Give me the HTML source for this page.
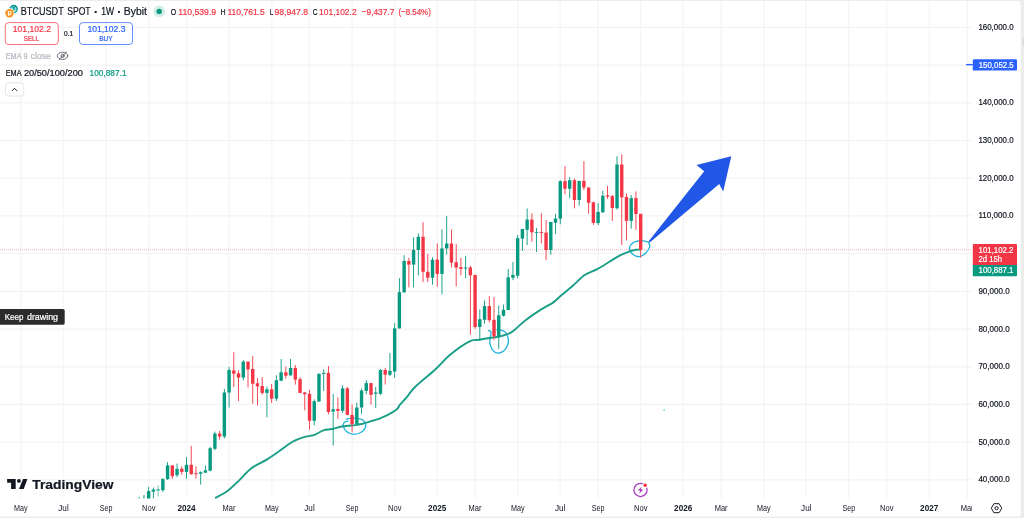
<!DOCTYPE html>
<html lang="en"><head><meta charset="utf-8"><title>BTCUSDT SPOT 1W Bybit</title>
<style>html,body{margin:0;padding:0;background:#ececec;overflow:hidden}svg{display:block}text{font-family:"Liberation Sans",sans-serif}</style></head><body>
<svg width="1024" height="518" viewBox="0 0 1024 518">
<rect width="1024" height="518" fill="#ececec"/>
<path d="M0 1H1018.3a2.4 2.4 0 0 1 2.4 2.4V514a2.4 2.4 0 0 1 -2.4 2.4H0Z" fill="#fff"/>
<rect x="1022.9" y="37.8" width="1.1" height="8.7" fill="#d9d9d9"/>
<g stroke="#f7f7f8" stroke-width="1.6" fill="none">
<line x1="20.9" y1="1" x2="20.9" y2="498.4"/>
<line x1="63.5" y1="1" x2="63.5" y2="498.4"/>
<line x1="106.1" y1="1" x2="106.1" y2="498.4"/>
<line x1="148.7" y1="1" x2="148.7" y2="498.4"/>
<line x1="186.5" y1="1" x2="186.5" y2="498.4"/>
<line x1="229.1" y1="1" x2="229.1" y2="498.4"/>
<line x1="271.7" y1="1" x2="271.7" y2="498.4"/>
<line x1="309.5" y1="1" x2="309.5" y2="498.4"/>
<line x1="352.1" y1="1" x2="352.1" y2="498.4"/>
<line x1="394.7" y1="1" x2="394.7" y2="498.4"/>
<line x1="437.2" y1="1" x2="437.2" y2="498.4"/>
<line x1="475.1" y1="1" x2="475.1" y2="498.4"/>
<line x1="517.7" y1="1" x2="517.7" y2="498.4"/>
<line x1="560.2" y1="1" x2="560.2" y2="498.4"/>
<line x1="598.1" y1="1" x2="598.1" y2="498.4"/>
<line x1="640.7" y1="1" x2="640.7" y2="498.4"/>
<line x1="683.3" y1="1" x2="683.3" y2="498.4"/>
<line x1="721.1" y1="1" x2="721.1" y2="498.4"/>
<line x1="763.7" y1="1" x2="763.7" y2="498.4"/>
<line x1="806.3" y1="1" x2="806.3" y2="498.4"/>
<line x1="848.8" y1="1" x2="848.8" y2="498.4"/>
<line x1="886.7" y1="1" x2="886.7" y2="498.4"/>
<line x1="929.3" y1="1" x2="929.3" y2="498.4"/>
<line x1="967.1" y1="1" x2="967.1" y2="498.4"/>
</g>
<g stroke="#f3f3f4" stroke-width="1.25" fill="none">
<line x1="0" y1="479.8" x2="972" y2="479.8"/>
<line x1="0" y1="442.1" x2="972" y2="442.1"/>
<line x1="0" y1="404.4" x2="972" y2="404.4"/>
<line x1="0" y1="366.8" x2="972" y2="366.8"/>
<line x1="0" y1="329.0" x2="972" y2="329.0"/>
<line x1="0" y1="291.3" x2="972" y2="291.3"/>
<line x1="0" y1="253.6" x2="972" y2="253.6"/>
<line x1="0" y1="215.9" x2="972" y2="215.9"/>
<line x1="0" y1="178.2" x2="972" y2="178.2"/>
<line x1="0" y1="140.5" x2="972" y2="140.5"/>
<line x1="0" y1="102.8" x2="972" y2="102.8"/>
<line x1="0" y1="65.1" x2="972" y2="65.1"/>
<line x1="0" y1="27.4" x2="972" y2="27.4"/>
</g>
<line x1="0" y1="249.6" x2="972" y2="249.6" stroke="#f23645" stroke-width="1.4" stroke-dasharray="1 1" opacity="0.32"/>
<g fill="none" stroke="#22b5dc" stroke-width="1.35" stroke-linecap="round" stroke-linejoin="round">
<path d="M346.1 419.2 C346.8 419.1 348.6 418.5 350.0 418.3 C351.4 418.1 352.6 418.0 354.6 418.2 C356.6 418.4 360.1 418.3 362.0 419.5 C363.9 420.7 365.7 423.3 365.7 425.3 C365.7 427.3 364.0 430.2 362.0 431.7 C360.0 433.2 356.5 434.4 353.9 434.4 C351.3 434.3 348.3 432.9 346.5 431.4 C344.7 429.9 343.4 427.1 343.1 425.6 C342.8 424.1 343.7 422.9 344.5 422.2 C345.3 421.5 347.2 421.4 347.8 421.2"/>
<path d="M488.4 330.4 C488.8 330.7 490.8 330.9 491.1 332.1 C491.4 333.3 490.3 335.5 490.1 337.5 C489.9 339.5 489.5 342.0 490.1 344.3 C490.7 346.6 492.1 349.6 493.5 351.1 C494.9 352.6 496.5 353.1 498.2 353.1 C499.9 353.1 502.0 352.5 503.6 351.1 C505.2 349.8 506.9 346.9 507.7 345.0 C508.5 343.1 508.6 341.5 508.4 339.6 C508.2 337.7 507.4 335.0 506.4 333.5 C505.4 332.0 503.9 331.0 502.3 330.4 C500.7 329.8 497.8 329.9 496.9 329.8"/>
<path d="M648.4 242.2 C647.6 242.0 645.1 241.0 643.6 240.8 C642.1 240.6 641.3 240.5 639.6 240.8 C637.9 241.1 635.2 241.3 633.5 242.5 C631.8 243.7 629.6 246.2 629.5 248.2 C629.4 250.2 631.1 252.9 632.8 254.3 C634.5 255.7 637.5 256.9 639.6 256.7 C641.8 256.5 644.0 254.6 645.7 253.0 C647.4 251.4 649.2 248.7 649.7 246.9 C650.2 245.1 648.6 243.0 648.4 242.2"/>
</g>
<rect x="663.3" y="409.2" width="1.6" height="1.6" fill="#7fd8ea"/>
<path d="M215.9 497.7 C217.9 496.6 223.8 493.7 227.7 490.8 C231.6 487.9 235.5 483.8 239.4 480.1 C243.3 476.4 246.6 471.8 251.1 468.4 C255.6 465.0 262.1 462.4 266.7 459.6 C271.2 456.8 274.2 454.7 278.4 451.8 C282.6 448.9 287.9 444.4 292.1 442.0 C296.3 439.6 300.2 438.2 303.8 437.1 C307.4 436.0 310.3 436.3 313.6 435.2 C316.9 434.1 320.3 431.3 323.4 430.3 C326.5 429.3 328.9 429.7 332.2 429.0 C335.5 428.3 339.3 426.9 343.2 426.3 C347.1 425.7 352.5 425.5 355.6 425.1 C358.7 424.7 359.1 424.6 361.7 424.0 C364.3 423.4 368.7 422.0 371.2 421.2 C373.8 420.4 374.6 420.4 377.2 419.4 C379.8 418.4 383.7 416.9 386.9 415.3 C390.1 413.7 394.4 411.3 396.6 409.5 C398.8 407.7 398.4 406.7 400.0 404.7 C401.6 402.7 403.9 400.6 406.4 397.7 C408.9 394.8 410.1 391.8 415.0 387.0 C419.9 382.2 430.1 374.3 435.8 369.0 C441.6 363.7 444.0 359.9 449.5 355.3 C455.0 350.7 464.1 344.2 469.0 341.6 C473.9 339.0 474.5 340.4 478.8 339.7 C483.0 339.0 490.5 337.9 494.4 337.3 C498.3 336.7 499.3 336.7 502.2 335.8 C505.1 334.9 508.1 334.5 512.0 331.9 C515.9 329.3 520.7 323.9 525.6 320.2 C530.5 316.4 536.7 312.3 541.2 309.4 C545.8 306.5 549.7 304.9 553.0 302.6 C556.3 300.3 557.5 298.6 560.8 295.8 C564.0 293.0 568.5 289.5 572.5 286.0 C576.5 282.5 580.6 277.8 584.7 275.0 C588.8 272.2 592.8 271.6 597.2 269.2 C601.6 266.8 607.4 262.9 611.2 260.6 C615.1 258.3 617.5 256.8 620.6 255.2 C623.7 253.6 627.4 252.2 630.0 251.2 C632.6 250.3 634.5 250.0 636.2 249.7 C638.0 249.4 639.5 249.7 640.2 249.7" fill="none" stroke="#1a9f86" stroke-width="1.9" stroke-linecap="round" stroke-linejoin="round"/>
<g>
<rect x="138.74" y="497.0" width="0.9" height="1.4" fill="#089981"/>
<rect x="143.47" y="495.2" width="0.9" height="3.2" fill="#089981" opacity="0.45"/>
<rect x="143.02" y="495.2" width="1.8" height="3.2" fill="#089981" opacity="0.45"/>
<rect x="148.20" y="487.0" width="0.9" height="11.4" fill="#089981"/>
<rect x="146.95" y="491.1" width="3.4" height="7.3" fill="#089981"/>
<rect x="152.93" y="487.6" width="0.9" height="10.8" fill="#089981"/>
<rect x="151.68" y="489.6" width="3.4" height="2.1" fill="#089981"/>
<rect x="157.66" y="485.5" width="0.9" height="10.9" fill="#089981" opacity="0.6"/>
<rect x="156.41" y="489.0" width="3.4" height="1.8" fill="#089981" opacity="0.6"/>
<rect x="162.40" y="478.1" width="0.9" height="13.7" fill="#089981"/>
<rect x="161.15" y="479.1" width="3.4" height="11.1" fill="#089981"/>
<rect x="167.13" y="462.1" width="0.9" height="17.9" fill="#089981"/>
<rect x="165.88" y="465.4" width="3.4" height="13.7" fill="#089981"/>
<rect x="171.86" y="465.4" width="0.9" height="13.3" fill="#f23645"/>
<rect x="170.61" y="465.4" width="3.4" height="10.8" fill="#f23645"/>
<rect x="176.59" y="463.5" width="0.9" height="13.6" fill="#089981"/>
<rect x="175.34" y="468.8" width="3.4" height="6.4" fill="#089981"/>
<rect x="181.32" y="466.4" width="0.9" height="8.2" fill="#f23645"/>
<rect x="180.07" y="468.8" width="3.4" height="3.1" fill="#f23645"/>
<rect x="186.05" y="457.0" width="0.9" height="21.7" fill="#089981"/>
<rect x="184.80" y="464.8" width="3.4" height="7.1" fill="#089981"/>
<rect x="190.78" y="445.9" width="0.9" height="28.7" fill="#f23645"/>
<rect x="189.53" y="464.8" width="3.4" height="9.4" fill="#f23645"/>
<rect x="195.51" y="466.4" width="0.9" height="12.3" fill="#f23645"/>
<rect x="194.26" y="473.2" width="3.4" height="1.0" fill="#f23645"/>
<rect x="200.24" y="471.3" width="0.9" height="13.3" fill="#089981"/>
<rect x="198.99" y="472.3" width="3.4" height="1.5" fill="#089981"/>
<rect x="204.97" y="465.4" width="0.9" height="7.3" fill="#089981"/>
<rect x="203.72" y="470.3" width="3.4" height="2.4" fill="#089981"/>
<rect x="209.71" y="446.9" width="0.9" height="24.4" fill="#089981"/>
<rect x="208.46" y="448.2" width="3.4" height="22.5" fill="#089981"/>
<rect x="214.44" y="431.6" width="0.9" height="18.8" fill="#089981"/>
<rect x="213.19" y="433.6" width="3.4" height="15.2" fill="#089981"/>
<rect x="219.17" y="430.9" width="0.9" height="8.7" fill="#f23645"/>
<rect x="217.92" y="433.6" width="3.4" height="2.9" fill="#f23645"/>
<rect x="223.90" y="389.0" width="0.9" height="49.5" fill="#089981"/>
<rect x="222.65" y="392.5" width="3.4" height="44.0" fill="#089981"/>
<rect x="228.63" y="366.9" width="0.9" height="40.6" fill="#089981"/>
<rect x="227.38" y="370.0" width="3.4" height="22.5" fill="#089981"/>
<rect x="233.36" y="352.2" width="0.9" height="34.8" fill="#f23645"/>
<rect x="232.11" y="370.4" width="3.4" height="3.3" fill="#f23645"/>
<rect x="238.09" y="370.4" width="0.9" height="30.6" fill="#f23645"/>
<rect x="236.84" y="373.3" width="3.4" height="4.3" fill="#f23645"/>
<rect x="242.82" y="360.2" width="0.9" height="20.0" fill="#089981"/>
<rect x="241.57" y="361.6" width="3.4" height="16.0" fill="#089981"/>
<rect x="247.55" y="361.6" width="0.9" height="25.8" fill="#f23645"/>
<rect x="246.30" y="361.6" width="3.4" height="7.8" fill="#f23645"/>
<rect x="252.28" y="356.1" width="0.9" height="47.5" fill="#f23645"/>
<rect x="251.03" y="369.0" width="3.4" height="14.7" fill="#f23645"/>
<rect x="257.01" y="378.2" width="0.9" height="27.3" fill="#f23645"/>
<rect x="255.76" y="383.3" width="3.4" height="3.1" fill="#f23645"/>
<rect x="261.75" y="377.2" width="0.9" height="17.6" fill="#f23645"/>
<rect x="260.50" y="386.0" width="3.4" height="6.9" fill="#f23645"/>
<rect x="266.48" y="386.6" width="0.9" height="30.7" fill="#089981"/>
<rect x="265.23" y="389.3" width="3.4" height="3.6" fill="#089981"/>
<rect x="271.21" y="384.0" width="0.9" height="19.0" fill="#f23645"/>
<rect x="269.96" y="389.3" width="3.4" height="9.4" fill="#f23645"/>
<rect x="275.94" y="375.3" width="0.9" height="25.7" fill="#089981"/>
<rect x="274.69" y="380.2" width="3.4" height="18.5" fill="#089981"/>
<rect x="280.67" y="359.0" width="0.9" height="22.1" fill="#089981"/>
<rect x="279.42" y="372.3" width="3.4" height="8.4" fill="#089981"/>
<rect x="285.40" y="366.5" width="0.9" height="12.1" fill="#f23645"/>
<rect x="284.15" y="372.3" width="3.4" height="3.4" fill="#f23645"/>
<rect x="290.13" y="359.0" width="0.9" height="16.7" fill="#089981"/>
<rect x="288.88" y="368.0" width="3.4" height="7.3" fill="#089981"/>
<rect x="294.86" y="365.1" width="0.9" height="19.5" fill="#f23645"/>
<rect x="293.61" y="368.0" width="3.4" height="11.6" fill="#f23645"/>
<rect x="299.59" y="377.2" width="0.9" height="16.0" fill="#f23645"/>
<rect x="298.34" y="379.2" width="3.4" height="13.7" fill="#f23645"/>
<rect x="304.32" y="391.9" width="0.9" height="18.5" fill="#f23645"/>
<rect x="303.07" y="392.5" width="3.4" height="1.7" fill="#f23645"/>
<rect x="309.06" y="389.9" width="0.9" height="39.7" fill="#f23645"/>
<rect x="307.81" y="393.8" width="3.4" height="27.0" fill="#f23645"/>
<rect x="313.79" y="399.3" width="0.9" height="26.2" fill="#089981"/>
<rect x="312.54" y="401.2" width="3.4" height="19.6" fill="#089981"/>
<rect x="318.52" y="373.7" width="0.9" height="27.9" fill="#089981"/>
<rect x="317.27" y="373.7" width="3.4" height="27.9" fill="#089981"/>
<rect x="323.25" y="369.4" width="0.9" height="21.5" fill="#089981"/>
<rect x="322.00" y="372.9" width="3.4" height="1.0" fill="#089981"/>
<rect x="327.98" y="366.1" width="0.9" height="48.2" fill="#f23645"/>
<rect x="326.73" y="372.9" width="3.4" height="39.1" fill="#f23645"/>
<rect x="332.71" y="393.9" width="0.9" height="51.7" fill="#089981"/>
<rect x="331.46" y="409.3" width="3.4" height="2.3" fill="#089981"/>
<rect x="337.44" y="397.3" width="0.9" height="21.5" fill="#f23645"/>
<rect x="336.19" y="409.0" width="3.4" height="1.8" fill="#f23645"/>
<rect x="342.17" y="385.4" width="0.9" height="27.4" fill="#089981"/>
<rect x="340.92" y="388.4" width="3.4" height="22.4" fill="#089981"/>
<rect x="346.90" y="387.0" width="0.9" height="28.3" fill="#f23645"/>
<rect x="345.65" y="388.4" width="3.4" height="26.5" fill="#f23645"/>
<rect x="351.63" y="404.6" width="0.9" height="27.7" fill="#f23645"/>
<rect x="350.38" y="414.9" width="3.4" height="9.2" fill="#f23645"/>
<rect x="356.37" y="402.6" width="0.9" height="22.1" fill="#089981"/>
<rect x="355.12" y="407.5" width="3.4" height="16.6" fill="#089981"/>
<rect x="361.10" y="388.4" width="0.9" height="25.4" fill="#089981"/>
<rect x="359.85" y="390.5" width="3.4" height="17.0" fill="#089981"/>
<rect x="365.83" y="380.2" width="0.9" height="14.2" fill="#089981"/>
<rect x="364.58" y="383.1" width="3.4" height="7.8" fill="#089981"/>
<rect x="370.56" y="383.1" width="0.9" height="21.5" fill="#f23645"/>
<rect x="369.31" y="383.1" width="3.4" height="11.7" fill="#f23645"/>
<rect x="375.29" y="387.0" width="0.9" height="20.9" fill="#089981"/>
<rect x="374.04" y="392.5" width="3.4" height="1.3" fill="#089981"/>
<rect x="380.02" y="369.0" width="0.9" height="26.2" fill="#089981"/>
<rect x="378.77" y="370.0" width="3.4" height="23.8" fill="#089981"/>
<rect x="384.75" y="368.0" width="0.9" height="16.5" fill="#f23645"/>
<rect x="383.50" y="370.0" width="3.4" height="4.7" fill="#f23645"/>
<rect x="389.48" y="352.8" width="0.9" height="23.4" fill="#089981"/>
<rect x="388.23" y="370.8" width="3.4" height="3.9" fill="#089981"/>
<rect x="394.21" y="323.1" width="0.9" height="54.7" fill="#089981"/>
<rect x="392.96" y="328.4" width="3.4" height="43.1" fill="#089981"/>
<rect x="398.94" y="278.2" width="0.9" height="50.2" fill="#089981"/>
<rect x="397.69" y="292.2" width="3.4" height="36.2" fill="#089981"/>
<rect x="403.68" y="255.2" width="0.9" height="37.7" fill="#089981"/>
<rect x="402.43" y="261.0" width="3.4" height="31.3" fill="#089981"/>
<rect x="408.41" y="257.7" width="0.9" height="29.7" fill="#f23645"/>
<rect x="407.16" y="261.0" width="3.4" height="3.6" fill="#f23645"/>
<rect x="413.14" y="237.2" width="0.9" height="50.2" fill="#089981"/>
<rect x="411.89" y="249.9" width="3.4" height="14.7" fill="#089981"/>
<rect x="417.87" y="233.3" width="0.9" height="42.0" fill="#089981"/>
<rect x="416.62" y="236.8" width="3.4" height="13.1" fill="#089981"/>
<rect x="422.60" y="222.2" width="0.9" height="59.9" fill="#f23645"/>
<rect x="421.35" y="236.8" width="3.4" height="35.0" fill="#f23645"/>
<rect x="427.33" y="253.8" width="0.9" height="28.3" fill="#f23645"/>
<rect x="426.08" y="271.8" width="3.4" height="5.9" fill="#f23645"/>
<rect x="432.06" y="257.3" width="0.9" height="27.4" fill="#089981"/>
<rect x="430.81" y="259.7" width="3.4" height="18.0" fill="#089981"/>
<rect x="436.79" y="243.5" width="0.9" height="43.1" fill="#f23645"/>
<rect x="435.54" y="259.7" width="3.4" height="14.2" fill="#f23645"/>
<rect x="441.52" y="229.4" width="0.9" height="64.9" fill="#089981"/>
<rect x="440.27" y="248.4" width="3.4" height="25.5" fill="#089981"/>
<rect x="446.25" y="216.1" width="0.9" height="38.3" fill="#089981"/>
<rect x="445.00" y="243.5" width="3.4" height="4.9" fill="#089981"/>
<rect x="450.99" y="229.4" width="0.9" height="38.1" fill="#f23645"/>
<rect x="449.74" y="243.5" width="3.4" height="19.1" fill="#f23645"/>
<rect x="455.72" y="244.1" width="0.9" height="42.3" fill="#f23645"/>
<rect x="454.47" y="262.2" width="3.4" height="5.3" fill="#f23645"/>
<rect x="460.45" y="257.7" width="0.9" height="17.6" fill="#f23645"/>
<rect x="459.20" y="267.1" width="3.4" height="1.8" fill="#f23645"/>
<rect x="465.18" y="255.8" width="0.9" height="22.4" fill="#089981"/>
<rect x="463.93" y="267.5" width="3.4" height="1.0" fill="#089981"/>
<rect x="469.91" y="265.9" width="0.9" height="68.9" fill="#f23645"/>
<rect x="468.66" y="267.5" width="3.4" height="7.8" fill="#f23645"/>
<rect x="474.64" y="274.9" width="0.9" height="54.0" fill="#f23645"/>
<rect x="473.39" y="274.9" width="3.4" height="52.1" fill="#f23645"/>
<rect x="479.37" y="309.4" width="0.9" height="31.3" fill="#089981"/>
<rect x="478.12" y="319.2" width="3.4" height="7.8" fill="#089981"/>
<rect x="484.10" y="300.6" width="0.9" height="23.1" fill="#089981"/>
<rect x="482.85" y="306.1" width="3.4" height="13.7" fill="#089981"/>
<rect x="488.83" y="296.1" width="0.9" height="26.4" fill="#f23645"/>
<rect x="487.58" y="306.1" width="3.4" height="14.1" fill="#f23645"/>
<rect x="493.56" y="297.1" width="0.9" height="42.6" fill="#f23645"/>
<rect x="492.31" y="319.8" width="3.4" height="16.4" fill="#f23645"/>
<rect x="498.30" y="305.5" width="0.9" height="43.6" fill="#089981"/>
<rect x="497.05" y="315.3" width="3.4" height="20.9" fill="#089981"/>
<rect x="503.03" y="304.5" width="0.9" height="12.1" fill="#089981"/>
<rect x="501.78" y="309.8" width="3.4" height="5.9" fill="#089981"/>
<rect x="507.76" y="269.1" width="0.9" height="40.9" fill="#089981"/>
<rect x="506.51" y="277.3" width="3.4" height="32.7" fill="#089981"/>
<rect x="512.49" y="262.0" width="0.9" height="18.2" fill="#089981"/>
<rect x="511.24" y="274.9" width="3.4" height="2.8" fill="#089981"/>
<rect x="517.22" y="234.9" width="0.9" height="43.3" fill="#089981"/>
<rect x="515.97" y="238.2" width="3.4" height="37.5" fill="#089981"/>
<rect x="521.95" y="229.0" width="0.9" height="21.9" fill="#089981"/>
<rect x="520.70" y="229.0" width="3.4" height="9.6" fill="#089981"/>
<rect x="526.68" y="208.5" width="0.9" height="36.5" fill="#089981"/>
<rect x="525.43" y="219.6" width="3.4" height="10.2" fill="#089981"/>
<rect x="531.41" y="213.2" width="0.9" height="28.5" fill="#f23645"/>
<rect x="530.16" y="219.6" width="3.4" height="12.7" fill="#f23645"/>
<rect x="536.14" y="228.0" width="0.9" height="24.0" fill="#089981"/>
<rect x="534.89" y="232.0" width="3.4" height="0.9" fill="#089981"/>
<rect x="540.88" y="213.2" width="0.9" height="30.3" fill="#f23645"/>
<rect x="539.62" y="232.0" width="3.4" height="0.9" fill="#f23645"/>
<rect x="545.61" y="220.0" width="0.9" height="40.0" fill="#f23645"/>
<rect x="544.36" y="232.6" width="3.4" height="17.4" fill="#f23645"/>
<rect x="550.34" y="222.0" width="0.9" height="32.8" fill="#089981"/>
<rect x="549.09" y="222.0" width="3.4" height="28.0" fill="#089981"/>
<rect x="555.07" y="213.8" width="0.9" height="20.2" fill="#089981"/>
<rect x="553.82" y="218.6" width="3.4" height="4.1" fill="#089981"/>
<rect x="559.80" y="180.2" width="0.9" height="44.1" fill="#089981"/>
<rect x="558.55" y="181.2" width="3.4" height="37.5" fill="#089981"/>
<rect x="564.53" y="166.1" width="0.9" height="28.1" fill="#f23645"/>
<rect x="563.28" y="181.2" width="3.4" height="7.5" fill="#f23645"/>
<rect x="569.26" y="177.0" width="0.9" height="21.4" fill="#089981"/>
<rect x="568.01" y="180.2" width="3.4" height="8.6" fill="#089981"/>
<rect x="573.99" y="178.6" width="0.9" height="29.7" fill="#f23645"/>
<rect x="572.74" y="180.2" width="3.4" height="19.8" fill="#f23645"/>
<rect x="578.72" y="180.9" width="0.9" height="24.7" fill="#089981"/>
<rect x="577.47" y="180.9" width="3.4" height="19.1" fill="#089981"/>
<rect x="583.45" y="161.1" width="0.9" height="28.9" fill="#f23645"/>
<rect x="582.20" y="180.9" width="3.4" height="6.6" fill="#f23645"/>
<rect x="588.18" y="187.5" width="0.9" height="26.2" fill="#f23645"/>
<rect x="586.93" y="187.5" width="3.4" height="15.3" fill="#f23645"/>
<rect x="592.92" y="201.6" width="0.9" height="23.4" fill="#f23645"/>
<rect x="591.67" y="202.3" width="3.4" height="20.6" fill="#f23645"/>
<rect x="597.65" y="203.1" width="0.9" height="21.9" fill="#089981"/>
<rect x="596.40" y="211.9" width="3.4" height="11.2" fill="#089981"/>
<rect x="602.38" y="190.8" width="0.9" height="22.2" fill="#089981"/>
<rect x="601.13" y="195.8" width="3.4" height="16.4" fill="#089981"/>
<rect x="607.11" y="185.9" width="0.9" height="13.0" fill="#f23645"/>
<rect x="605.86" y="195.3" width="3.4" height="1.3" fill="#f23645"/>
<rect x="611.84" y="195.0" width="0.9" height="26.0" fill="#f23645"/>
<rect x="610.59" y="196.1" width="3.4" height="11.9" fill="#f23645"/>
<rect x="616.57" y="156.2" width="0.9" height="53.2" fill="#089981"/>
<rect x="615.32" y="164.5" width="3.4" height="43.8" fill="#089981"/>
<rect x="621.30" y="154.4" width="0.9" height="90.6" fill="#f23645"/>
<rect x="620.05" y="164.5" width="3.4" height="32.8" fill="#f23645"/>
<rect x="626.03" y="193.4" width="0.9" height="46.9" fill="#f23645"/>
<rect x="624.78" y="197.0" width="3.4" height="23.8" fill="#f23645"/>
<rect x="630.76" y="195.0" width="0.9" height="33.6" fill="#089981"/>
<rect x="629.51" y="198.1" width="3.4" height="22.8" fill="#089981"/>
<rect x="635.49" y="191.4" width="0.9" height="38.3" fill="#f23645"/>
<rect x="634.24" y="198.1" width="3.4" height="15.9" fill="#f23645"/>
<rect x="640.23" y="213.8" width="0.9" height="43.8" fill="#f23645"/>
<rect x="638.98" y="213.8" width="3.4" height="35.9" fill="#f23645"/>
</g>
<path d="M648.5 241.4L704.2 171.3L696.5 165L731.3 156.2L723.2 191.4L719.2 184L649.7 242.6Z" fill="#2157e6"/>
<circle cx="13.7" cy="9.0" r="4.2" fill="#0a9a96"/>
<circle cx="13.5" cy="9.3" r="2.9" fill="#9ad8d3"/>
<text x="13.6" y="10.9" font-size="4.6" fill="#0a9a96" text-anchor="middle" font-weight="bold">₮</text>
<circle cx="9.5" cy="13.2" r="4.9" fill="#fff"/>
<circle cx="9.5" cy="13.2" r="4.2" fill="#f7931a"/>
<text x="9.5" y="15.4" font-size="6" fill="#fff" text-anchor="middle" font-weight="bold">₿</text>
<text x="20.8" y="15.3" font-size="10.6" fill="#131722" stroke="#131722" stroke-width="0.22" textLength="42.9" lengthAdjust="spacingAndGlyphs">BTCUSDT</text>
<text x="67.2" y="15.3" font-size="10.6" fill="#131722" stroke="#131722" stroke-width="0.22" textLength="23.4" lengthAdjust="spacingAndGlyphs">SPOT</text>
<text x="95.9" y="15.6" font-size="12" fill="#131722" stroke="#131722" stroke-width="0.22" font-weight="bold" text-anchor="middle">·</text>
<text x="101.3" y="15.3" font-size="10.6" fill="#131722" stroke="#131722" stroke-width="0.22" textLength="12.8" lengthAdjust="spacingAndGlyphs">1W</text>
<text x="119.2" y="15.6" font-size="12" fill="#131722" stroke="#131722" stroke-width="0.22" font-weight="bold" text-anchor="middle">·</text>
<text x="123.8" y="15.3" font-size="10.6" fill="#131722" stroke="#131722" stroke-width="0.22" textLength="23.1" lengthAdjust="spacingAndGlyphs">Bybit</text>
<circle cx="159.2" cy="11.4" r="5.9" fill="#d3eee9"/><circle cx="159.2" cy="11.4" r="2.7" fill="#089981"/>
<text x="170.8" y="15.3" font-size="9.6" fill="#131722" stroke="#131722" stroke-width="0.22" textLength="5.4" lengthAdjust="spacingAndGlyphs">O</text>
<text x="178.3" y="15.3" font-size="9.6" fill="#f23645" stroke="#f23645" stroke-width="0.22" textLength="37.8" lengthAdjust="spacingAndGlyphs">110,539.9</text>
<text x="220.5" y="15.3" font-size="9.6" fill="#131722" stroke="#131722" stroke-width="0.22" textLength="5.1" lengthAdjust="spacingAndGlyphs">H</text>
<text x="227.5" y="15.3" font-size="9.6" fill="#f23645" stroke="#f23645" stroke-width="0.22" textLength="37.2" lengthAdjust="spacingAndGlyphs">110,761.5</text>
<text x="269.7" y="15.3" font-size="9.6" fill="#131722" stroke="#131722" stroke-width="0.22" textLength="3.5" lengthAdjust="spacingAndGlyphs">L</text>
<text x="274.5" y="15.3" font-size="9.6" fill="#f23645" stroke="#f23645" stroke-width="0.22" textLength="33.6" lengthAdjust="spacingAndGlyphs">98,947.8</text>
<text x="312.7" y="15.3" font-size="9.6" fill="#131722" stroke="#131722" stroke-width="0.22" textLength="4.8" lengthAdjust="spacingAndGlyphs">C</text>
<text x="319.1" y="15.3" font-size="9.6" fill="#f23645" stroke="#f23645" stroke-width="0.22" textLength="37.5" lengthAdjust="spacingAndGlyphs">101,102.2</text>
<text x="361.6" y="15.3" font-size="9.6" fill="#f23645" stroke="#f23645" stroke-width="0.22" textLength="32.8" lengthAdjust="spacingAndGlyphs">−9,437.7</text>
<text x="398.4" y="15.3" font-size="9.6" fill="#f23645" stroke="#f23645" stroke-width="0.22" textLength="32.4" lengthAdjust="spacingAndGlyphs">(−8.54%)</text>
<rect x="5.3" y="22.6" width="53" height="21.9" rx="3.4" fill="#fff" stroke="#f23645" stroke-width="0.9" stroke-opacity="0.8"/>
<text x="12.8" y="32.1" font-size="9" fill="#f23645" stroke="#f23645" stroke-width="0.22" textLength="38.3" lengthAdjust="spacingAndGlyphs">101,102.2</text>
<text x="23.8" y="40.9" font-size="7" fill="#f23645" stroke="#f23645" stroke-width="0.22" textLength="15.2" lengthAdjust="spacingAndGlyphs">SELL</text>
<text x="64.0" y="35.9" font-size="6.5" fill="#131722" stroke="#131722" stroke-width="0.22" textLength="9.1" lengthAdjust="spacingAndGlyphs">0.1</text>
<rect x="79.5" y="22.6" width="53" height="21.9" rx="3.4" fill="#fff" stroke="#2962ff" stroke-width="0.9" stroke-opacity="0.8"/>
<text x="87.5" y="32.1" font-size="9" fill="#2962ff" stroke="#2962ff" stroke-width="0.22" textLength="38.0" lengthAdjust="spacingAndGlyphs">101,102.3</text>
<text x="99.2" y="40.9" font-size="7" fill="#2962ff" stroke="#2962ff" stroke-width="0.22" textLength="13.3" lengthAdjust="spacingAndGlyphs">BUY</text>
<text x="5.7" y="59.4" font-size="8.6" fill="#b5b8c0" stroke="#b5b8c0" stroke-width="0.22" textLength="15.9" lengthAdjust="spacingAndGlyphs">EMA</text>
<text x="23.6" y="59.4" font-size="8.6" fill="#b5b8c0" stroke="#b5b8c0" stroke-width="0.22" textLength="4.0" lengthAdjust="spacingAndGlyphs">9</text>
<text x="30.8" y="59.4" font-size="8.6" fill="#b5b8c0" stroke="#b5b8c0" stroke-width="0.22" textLength="19.8" lengthAdjust="spacingAndGlyphs">close</text>
<g stroke="#50535e" stroke-width="0.85" fill="none" stroke-linecap="round"><ellipse cx="62.55" cy="55.85" rx="5.2" ry="3.6"/><circle cx="62.55" cy="55.85" r="1.6"/><path d="M59.1 59.5L66.6 52"/></g>
<text x="5.7" y="75.8" font-size="8.8" fill="#131722" stroke="#131722" stroke-width="0.22" textLength="15.9" lengthAdjust="spacingAndGlyphs">EMA</text>
<text x="23.9" y="75.8" font-size="8.8" fill="#131722" stroke="#131722" stroke-width="0.22" textLength="59.1" lengthAdjust="spacingAndGlyphs">20/50/100/200</text>
<text x="89.6" y="75.8" font-size="8.8" fill="#089981" stroke="#089981" stroke-width="0.22" textLength="36.9" lengthAdjust="spacingAndGlyphs">100,887.1</text>
<rect x="5.5" y="82.8" width="18.3" height="13.2" rx="2.6" fill="#fff" stroke="#e6e6e8" stroke-width="1"/>
<path d="M12.2 90.6L14.5 88.3L16.8 90.6" fill="none" stroke="#131722" stroke-width="1" stroke-linecap="round" stroke-linejoin="round"/>
<path d="M0 309H63a1.7 1.7 0 0 1 1.7 1.7V323.1a1.7 1.7 0 0 1 -1.7 1.7H0Z" fill="#2b2b2b"/>
<text x="4.8" y="319.6" font-size="8.7" fill="#fff" stroke="#fff" stroke-width="0.22" textLength="18.6" lengthAdjust="spacingAndGlyphs">Keep</text>
<text x="27.0" y="319.6" font-size="8.7" fill="#fff" stroke="#fff" stroke-width="0.22" textLength="31.0" lengthAdjust="spacingAndGlyphs">drawing</text>
<g fill="#131722"><path d="M7.15 479H15.7V488.9H11.1V482.7H7.15Z"/><circle cx="18.9" cy="480.9" r="1.9"/><path d="M23.1 479H27.4L23.7 488.9H19Z"/></g>
<text x="32.3" y="488.8" font-size="13.4" fill="#131722" stroke="#131722" stroke-width="0.22" textLength="81.2" lengthAdjust="spacingAndGlyphs" font-weight="bold">TradingView</text>
<text x="978.4" y="482.3" font-size="9.3" fill="#131722" stroke="#131722" stroke-width="0.22" textLength="31.3" lengthAdjust="spacingAndGlyphs">40,000.0</text>
<text x="978.4" y="444.6" font-size="9.3" fill="#131722" stroke="#131722" stroke-width="0.22" textLength="31.3" lengthAdjust="spacingAndGlyphs">50,000.0</text>
<text x="978.4" y="406.9" font-size="9.3" fill="#131722" stroke="#131722" stroke-width="0.22" textLength="31.3" lengthAdjust="spacingAndGlyphs">60,000.0</text>
<text x="978.4" y="369.2" font-size="9.3" fill="#131722" stroke="#131722" stroke-width="0.22" textLength="31.3" lengthAdjust="spacingAndGlyphs">70,000.0</text>
<text x="978.4" y="331.5" font-size="9.3" fill="#131722" stroke="#131722" stroke-width="0.22" textLength="31.3" lengthAdjust="spacingAndGlyphs">80,000.0</text>
<text x="978.4" y="293.8" font-size="9.3" fill="#131722" stroke="#131722" stroke-width="0.22" textLength="31.3" lengthAdjust="spacingAndGlyphs">90,000.0</text>
<text x="978.4" y="218.4" font-size="9.3" fill="#131722" stroke="#131722" stroke-width="0.22" textLength="35.2" lengthAdjust="spacingAndGlyphs">110,000.0</text>
<text x="978.4" y="180.7" font-size="9.3" fill="#131722" stroke="#131722" stroke-width="0.22" textLength="35.2" lengthAdjust="spacingAndGlyphs">120,000.0</text>
<text x="978.4" y="143.0" font-size="9.3" fill="#131722" stroke="#131722" stroke-width="0.22" textLength="35.2" lengthAdjust="spacingAndGlyphs">130,000.0</text>
<text x="978.4" y="105.3" font-size="9.3" fill="#131722" stroke="#131722" stroke-width="0.22" textLength="35.2" lengthAdjust="spacingAndGlyphs">140,000.0</text>
<text x="978.4" y="29.9" font-size="9.3" fill="#131722" stroke="#131722" stroke-width="0.22" textLength="35.2" lengthAdjust="spacingAndGlyphs">160,000.0</text>
<rect x="972.8" y="59.3" width="44.2" height="11.3" rx="1.2" fill="#2962ff"/>
<rect x="966.1" y="63.95" width="6.7" height="1.4" fill="#2962ff"/>
<text x="978.7" y="67.6" font-size="9.3" fill="#fff" stroke="#fff" stroke-width="0.22" textLength="35.0" lengthAdjust="spacingAndGlyphs">150,052.5</text>
<path d="M973.8 244.1H1016a1 1 0 0 1 1 1V264.9H972.8V245.1a1 1 0 0 1 1-1Z" fill="#f23645"/>
<path d="M972.8 264.9H1017V275.3a1 1 0 0 1 -1 1H973.8a1 1 0 0 1 -1-1Z" fill="#089981"/>
<text x="978.5" y="252.5" font-size="9.3" fill="#fff" stroke="#fff" stroke-width="0.22" textLength="35.0" lengthAdjust="spacingAndGlyphs">101,102.2</text>
<text x="978.5" y="261.7" font-size="9" fill="#fff" stroke="#fff" stroke-width="0.22" textLength="23.6" lengthAdjust="spacingAndGlyphs">2d 15h</text>
<text x="978.5" y="273.2" font-size="9.3" fill="#fff" stroke="#fff" stroke-width="0.22" textLength="35.0" lengthAdjust="spacingAndGlyphs">100,887.1</text>
<text x="14.1" y="510.6" font-size="8.5" fill="#131722" textLength="13.6" lengthAdjust="spacingAndGlyphs">May</text>
<text x="58.3" y="510.6" font-size="8.5" fill="#131722" textLength="10.4" lengthAdjust="spacingAndGlyphs">Jul</text>
<text x="99.8" y="510.6" font-size="8.5" fill="#131722" textLength="12.6" lengthAdjust="spacingAndGlyphs">Sep</text>
<text x="142.0" y="510.6" font-size="8.5" fill="#131722" textLength="13.4" lengthAdjust="spacingAndGlyphs">Nov</text>
<text x="177.4" y="510.6" font-size="8.8" fill="#131722" textLength="18.2" lengthAdjust="spacingAndGlyphs" font-weight="bold">2024</text>
<text x="222.6" y="510.6" font-size="8.5" fill="#131722" textLength="12.9" lengthAdjust="spacingAndGlyphs">Mar</text>
<text x="264.9" y="510.6" font-size="8.5" fill="#131722" textLength="13.6" lengthAdjust="spacingAndGlyphs">May</text>
<text x="304.3" y="510.6" font-size="8.5" fill="#131722" textLength="10.4" lengthAdjust="spacingAndGlyphs">Jul</text>
<text x="345.8" y="510.6" font-size="8.5" fill="#131722" textLength="12.6" lengthAdjust="spacingAndGlyphs">Sep</text>
<text x="388.0" y="510.6" font-size="8.5" fill="#131722" textLength="13.4" lengthAdjust="spacingAndGlyphs">Nov</text>
<text x="428.1" y="510.6" font-size="8.8" fill="#131722" textLength="18.2" lengthAdjust="spacingAndGlyphs" font-weight="bold">2025</text>
<text x="468.6" y="510.6" font-size="8.5" fill="#131722" textLength="12.9" lengthAdjust="spacingAndGlyphs">Mar</text>
<text x="510.9" y="510.6" font-size="8.5" fill="#131722" textLength="13.6" lengthAdjust="spacingAndGlyphs">May</text>
<text x="555.0" y="510.6" font-size="8.5" fill="#131722" textLength="10.4" lengthAdjust="spacingAndGlyphs">Jul</text>
<text x="591.8" y="510.6" font-size="8.5" fill="#131722" textLength="12.6" lengthAdjust="spacingAndGlyphs">Sep</text>
<text x="634.0" y="510.6" font-size="8.5" fill="#131722" textLength="13.4" lengthAdjust="spacingAndGlyphs">Nov</text>
<text x="674.1" y="510.6" font-size="8.8" fill="#131722" textLength="18.2" lengthAdjust="spacingAndGlyphs" font-weight="bold">2026</text>
<text x="714.7" y="510.6" font-size="8.5" fill="#131722" textLength="12.9" lengthAdjust="spacingAndGlyphs">Mar</text>
<text x="756.9" y="510.6" font-size="8.5" fill="#131722" textLength="13.6" lengthAdjust="spacingAndGlyphs">May</text>
<text x="801.1" y="510.6" font-size="8.5" fill="#131722" textLength="10.4" lengthAdjust="spacingAndGlyphs">Jul</text>
<text x="842.5" y="510.6" font-size="8.5" fill="#131722" textLength="12.6" lengthAdjust="spacingAndGlyphs">Sep</text>
<text x="880.0" y="510.6" font-size="8.5" fill="#131722" textLength="13.4" lengthAdjust="spacingAndGlyphs">Nov</text>
<text x="920.1" y="510.6" font-size="8.8" fill="#131722" textLength="18.2" lengthAdjust="spacingAndGlyphs" font-weight="bold">2027</text>
<clipPath id="tc"><rect x="0" y="499" width="972" height="19"/></clipPath>
<text x="960.7" y="510.6" font-size="8.5" fill="#131722" textLength="12.9" lengthAdjust="spacingAndGlyphs" clip-path="url(#tc)">Mar</text>
<polygon points="1001.8,508.2 999.1,512.7 993.9,512.7 991.3,508.2 993.9,503.7 999.1,503.7" fill="none" stroke="#131722" stroke-width="1" stroke-linejoin="round"/>
<circle cx="996.55" cy="508.2" r="1.6" fill="none" stroke="#131722" stroke-width="1"/>
<circle cx="640.5" cy="489.9" r="6.6" fill="#fff" stroke="#a93cc4" stroke-width="1.25"/>
<path d="M641.9 486.4L637.9 490.6H640.3L638.9 493.9L643.1 489.4H640.6Z" fill="#9c27b0"/>
<circle cx="645.2" cy="485.2" r="2.8" fill="#fff"/><circle cx="645.2" cy="485.2" r="1.8" fill="#f23645"/>
</svg></body></html>
